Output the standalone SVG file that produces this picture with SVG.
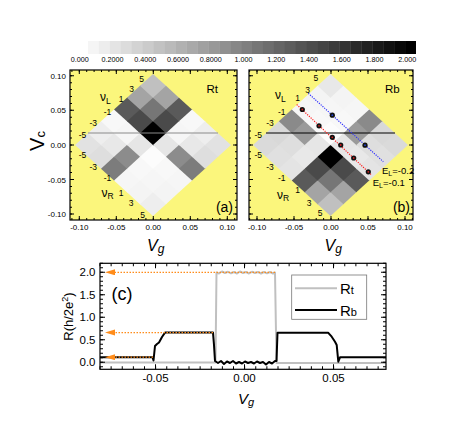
<svg xmlns="http://www.w3.org/2000/svg" width="475" height="429" viewBox="0 0 475 429">
<defs>
<style>
text{font-family:"Liberation Sans",Arial,sans-serif;fill:#000}
.cb{font-size:7.2px;text-anchor:middle}
.tk{font-size:8px}
.tkm{font-size:8px;text-anchor:middle}
.num{font-size:8.5px;text-anchor:middle}
.nu{font-size:12px}
.frame{fill:none;stroke:#000;stroke-width:1.2}
.yel{fill:#fbf67c}
.t{stroke:#000;fill:none}
.ctk{font-size:11.5px}
.ctkm{font-size:11.5px;text-anchor:middle}
.or{stroke:#ff8c1a;stroke-width:1.3;stroke-dasharray:1.5 1.5;fill:none}
.rd{fill:#111}
.el{font-size:9.5px}
</style>
<marker id="oa" markerUnits="userSpaceOnUse" markerWidth="11" markerHeight="7" refX="0" refY="3" orient="auto">
<path d="M0,0 L10,3 L0,6 z" fill="#ff8c1a"/>
</marker>
</defs>
<rect width="475" height="429" fill="#fff"/>

<g id="colorbar">
<rect x="88" y="41" width="11.3" height="13" fill="#f5f5f5"/>
<rect x="98.93" y="41" width="11.3" height="13" fill="#ededed"/>
<rect x="109.87" y="41" width="11.3" height="13" fill="#e4e4e4"/>
<rect x="120.8" y="41" width="11.3" height="13" fill="#dcdcdc"/>
<rect x="131.73" y="41" width="11.3" height="13" fill="#d3d3d3"/>
<rect x="142.67" y="41" width="11.3" height="13" fill="#cbcbcb"/>
<rect x="153.6" y="41" width="11.3" height="13" fill="#c2c2c2"/>
<rect x="164.53" y="41" width="11.3" height="13" fill="#bababa"/>
<rect x="175.47" y="41" width="11.3" height="13" fill="#b1b1b1"/>
<rect x="186.4" y="41" width="11.3" height="13" fill="#a9a9a9"/>
<rect x="197.33" y="41" width="11.3" height="13" fill="#a0a0a0"/>
<rect x="208.27" y="41" width="11.3" height="13" fill="#989898"/>
<rect x="219.2" y="41" width="11.3" height="13" fill="#909090"/>
<rect x="230.13" y="41" width="11.3" height="13" fill="#878787"/>
<rect x="241.07" y="41" width="11.3" height="13" fill="#7f7f7f"/>
<rect x="252" y="41" width="11.3" height="13" fill="#767676"/>
<rect x="262.93" y="41" width="11.3" height="13" fill="#6e6e6e"/>
<rect x="273.87" y="41" width="11.3" height="13" fill="#656565"/>
<rect x="284.8" y="41" width="11.3" height="13" fill="#5d5d5d"/>
<rect x="295.73" y="41" width="11.3" height="13" fill="#545454"/>
<rect x="306.67" y="41" width="11.3" height="13" fill="#4c4c4c"/>
<rect x="317.6" y="41" width="11.3" height="13" fill="#444444"/>
<rect x="328.53" y="41" width="11.3" height="13" fill="#3b3b3b"/>
<rect x="339.47" y="41" width="11.3" height="13" fill="#333333"/>
<rect x="350.4" y="41" width="11.3" height="13" fill="#2a2a2a"/>
<rect x="361.33" y="41" width="11.3" height="13" fill="#222222"/>
<rect x="372.27" y="41" width="11.3" height="13" fill="#191919"/>
<rect x="383.2" y="41" width="11.3" height="13" fill="#111111"/>
<rect x="394.13" y="41" width="11.3" height="13" fill="#080808"/>
<rect x="405.07" y="41" width="10.93" height="13" fill="#000000"/>
<text class="cb" x="79.7" y="62">0.000</text>
<text class="cb" x="112.5" y="62">0.2000</text>
<text class="cb" x="145.2" y="62">0.4000</text>
<text class="cb" x="178" y="62">0.6000</text>
<text class="cb" x="210.7" y="62">0.8000</text>
<text class="cb" x="243.5" y="62">1.000</text>
<text class="cb" x="276.2" y="62">1.200</text>
<text class="cb" x="309" y="62">1.400</text>
<text class="cb" x="341.7" y="62">1.600</text>
<text class="cb" x="374.5" y="62">1.800</text>
<text class="cb" x="407.2" y="62">2.000</text>
</g>

<g id="panel-a">
<rect class="yel" x="70" y="70" width="167" height="150"/>
<g transform="matrix(13,-11.8333,13,11.8333,75,145)">
<rect x="0" y="0" width="1.04" height="1.04" fill="#e2e2e2"/>
<rect x="0" y="1" width="1.04" height="1.04" fill="#dedede"/>
<rect x="0" y="2" width="1.04" height="1.04" fill="#7c7c7c"/>
<rect x="0" y="3" width="1.04" height="1.04" fill="#f6f6f6"/>
<rect x="0" y="4" width="1.04" height="1.04" fill="#f4f4f4"/>
<rect x="0" y="5" width="1.04" height="1" fill="#eeeeee"/>
<rect x="1" y="0" width="1.04" height="1.04" fill="#eeeeee"/>
<rect x="1" y="1" width="1.04" height="1.04" fill="#e8e8e8"/>
<rect x="1" y="2" width="1.04" height="1.04" fill="#8c8c8c"/>
<rect x="1" y="3" width="1.04" height="1.04" fill="#f8f8f8"/>
<rect x="1" y="4" width="1.04" height="1.04" fill="#f6f6f6"/>
<rect x="1" y="5" width="1.04" height="1" fill="#f4f4f4"/>
<rect x="2" y="0" width="1.04" height="1.04" fill="#f8f8f8"/>
<rect x="2" y="1" width="1.04" height="1.04" fill="#f6f6f6"/>
<rect x="2" y="2" width="1.04" height="1.04" fill="#e6e6e6"/>
<rect x="2" y="3" width="1.04" height="1.04" fill="#fcfcfc"/>
<rect x="2" y="4" width="1.04" height="1.04" fill="#f8f8f8"/>
<rect x="2" y="5" width="1.04" height="1" fill="#f6f6f6"/>
<rect x="3" y="0" width="1.04" height="1.04" fill="#5a5a5a"/>
<rect x="3" y="1" width="1.04" height="1.04" fill="#4a4a4a"/>
<rect x="3" y="2" width="1.04" height="1.04" fill="#000000"/>
<rect x="3" y="3" width="1.04" height="1.04" fill="#e6e6e6"/>
<rect x="3" y="4" width="1.04" height="1.04" fill="#8c8c8c"/>
<rect x="3" y="5" width="1.04" height="1" fill="#7c7c7c"/>
<rect x="4" y="0" width="1.04" height="1.04" fill="#a4a4a4"/>
<rect x="4" y="1" width="1.04" height="1.04" fill="#767676"/>
<rect x="4" y="2" width="1.04" height="1.04" fill="#4a4a4a"/>
<rect x="4" y="3" width="1.04" height="1.04" fill="#f6f6f6"/>
<rect x="4" y="4" width="1.04" height="1.04" fill="#e8e8e8"/>
<rect x="4" y="5" width="1.04" height="1" fill="#dedede"/>
<rect x="5" y="0" width="1" height="1.04" fill="#c0c0c0"/>
<rect x="5" y="1" width="1" height="1.04" fill="#a4a4a4"/>
<rect x="5" y="2" width="1" height="1.04" fill="#5a5a5a"/>
<rect x="5" y="3" width="1" height="1.04" fill="#f8f8f8"/>
<rect x="5" y="4" width="1" height="1.04" fill="#eeeeee"/>
<rect x="5" y="5" width="1" height="1" fill="#e2e2e2"/>
</g>
<line x1="88" y1="133" x2="218" y2="133" stroke="#8a8a8a" stroke-width="1"/>
<rect class="frame" x="70" y="70" width="167" height="150"/>
<line class="t" x1="71" y1="75.25" x2="71" y2="215" stroke-width="2" stroke-dasharray="1 5.915"/>
<line class="t" x1="72" y1="75.25" x2="72" y2="215" stroke-width="4" stroke-dasharray="1 33.575"/>
<line class="t" x1="236" y1="75.25" x2="236" y2="215" stroke-width="2" stroke-dasharray="1 5.915"/>
<line class="t" x1="235" y1="75.25" x2="235" y2="215" stroke-width="4" stroke-dasharray="1 33.575"/>
<line class="t" x1="71.4" y1="219" x2="236" y2="219" stroke-width="2" stroke-dasharray="1 6.4"/>
<line class="t" x1="78.8" y1="218" x2="236" y2="218" stroke-width="4" stroke-dasharray="1 36"/>
<line class="t" x1="71.4" y1="71" x2="236" y2="71" stroke-width="2" stroke-dasharray="1 6.4"/>
<line class="t" x1="78.8" y1="72" x2="236" y2="72" stroke-width="4" stroke-dasharray="1 36"/>
<text class="tk" x="66" y="78.8" text-anchor="end">0.10</text>
<text class="tk" x="66" y="113.3" text-anchor="end">0.05</text>
<text class="tk" x="66" y="147.9" text-anchor="end">0.00</text>
<text class="tk" x="66" y="182.5" text-anchor="end">-0.05</text>
<text class="tk" x="66" y="217" text-anchor="end">-0.10</text>
<text class="tkm" x="79.3" y="230">-0.10</text>
<text class="tkm" x="116.3" y="230">-0.05</text>
<text class="tkm" x="153.3" y="230">0.00</text>
<text class="tkm" x="190.3" y="230">0.05</text>
<text class="tkm" x="227.3" y="230">0.10</text>
<text class="num" x="141.7" y="82">5</text>
<text class="num" x="131.7" y="92">3</text>
<text class="num" x="121" y="102">1</text>
<text class="num" x="107.5" y="114.7">-1</text>
<text class="num" x="93.3" y="126.3">-3</text>
<text class="num" x="82.5" y="138">-5</text>
<text class="num" x="82.5" y="158">-5</text>
<text class="num" x="93.3" y="169.7">-3</text>
<text class="num" x="107.5" y="181.3">-1</text>
<text class="num" x="121" y="195.5">1</text>
<text class="num" x="131" y="206">3</text>
<text class="num" x="142.5" y="218">5</text>
<text class="nu" x="100" y="101">ν<tspan font-size="8.5" dy="3.3">L</tspan></text>
<text class="nu" x="101.5" y="196.5">ν<tspan font-size="8.5" dy="2.5">R</tspan></text>
<text x="206.5" y="93" font-size="11.5">Rt</text>
<text x="233" y="211.5" font-size="14" text-anchor="end">(a)</text>
<text x="147" y="250.5" font-size="16" font-style="italic">V<tspan font-size="12" dy="2">g</tspan></text>
<text transform="translate(43.5,141) rotate(-90)" font-size="20" text-anchor="middle">V<tspan font-size="13" dy="1">c</tspan></text>
</g>

<g id="panel-b">
<rect class="yel" x="249" y="70" width="164" height="150"/>
<g transform="matrix(12.9167,-11.8333,12.9167,11.8333,253,145)">
<rect x="0" y="0" width="1.04" height="1.04" fill="#dadada"/>
<rect x="0" y="1" width="1.04" height="1.04" fill="#e0e0e0"/>
<rect x="0" y="2" width="1.04" height="1.04" fill="#e4e4e4"/>
<rect x="0" y="3" width="1.04" height="1.04" fill="#5a5a5a"/>
<rect x="0" y="4" width="1.04" height="1.04" fill="#a4a4a4"/>
<rect x="0" y="5" width="1.04" height="1" fill="#c0c0c0"/>
<rect x="1" y="0" width="1.04" height="1.04" fill="#d8d8d8"/>
<rect x="1" y="1" width="1.04" height="1.04" fill="#dedede"/>
<rect x="1" y="2" width="1.04" height="1.04" fill="#e8e8e8"/>
<rect x="1" y="3" width="1.04" height="1.04" fill="#4a4a4a"/>
<rect x="1" y="4" width="1.04" height="1.04" fill="#767676"/>
<rect x="1" y="5" width="1.04" height="1" fill="#a4a4a4"/>
<rect x="2" y="0" width="1.04" height="1.04" fill="#8a8a8a"/>
<rect x="2" y="1" width="1.04" height="1.04" fill="#9a9a9a"/>
<rect x="2" y="2" width="1.04" height="1.04" fill="#e6e6e6"/>
<rect x="2" y="3" width="1.04" height="1.04" fill="#000000"/>
<rect x="2" y="4" width="1.04" height="1.04" fill="#4a4a4a"/>
<rect x="2" y="5" width="1.04" height="1" fill="#5a5a5a"/>
<rect x="3" y="0" width="1.04" height="1.04" fill="#f6f6f6"/>
<rect x="3" y="1" width="1.04" height="1.04" fill="#f8f8f8"/>
<rect x="3" y="2" width="1.04" height="1.04" fill="#fcfcfc"/>
<rect x="3" y="3" width="1.04" height="1.04" fill="#e6e6e6"/>
<rect x="3" y="4" width="1.04" height="1.04" fill="#e8e8e8"/>
<rect x="3" y="5" width="1.04" height="1" fill="#e4e4e4"/>
<rect x="4" y="0" width="1.04" height="1.04" fill="#f4f4f4"/>
<rect x="4" y="1" width="1.04" height="1.04" fill="#f6f6f6"/>
<rect x="4" y="2" width="1.04" height="1.04" fill="#f8f8f8"/>
<rect x="4" y="3" width="1.04" height="1.04" fill="#9a9a9a"/>
<rect x="4" y="4" width="1.04" height="1.04" fill="#dedede"/>
<rect x="4" y="5" width="1.04" height="1" fill="#e0e0e0"/>
<rect x="5" y="0" width="1" height="1.04" fill="#e8e8e8"/>
<rect x="5" y="1" width="1" height="1.04" fill="#f4f4f4"/>
<rect x="5" y="2" width="1" height="1.04" fill="#f6f6f6"/>
<rect x="5" y="3" width="1" height="1.04" fill="#8a8a8a"/>
<rect x="5" y="4" width="1" height="1.04" fill="#d8d8d8"/>
<rect x="5" y="5" width="1" height="1" fill="#dadada"/>
</g>
<line x1="266" y1="133" x2="395" y2="133" stroke="#000" stroke-width="1.2"/>
<line x1="308.3" y1="93.3" x2="383.3" y2="161.7" stroke="#3030ff" stroke-width="1.2" stroke-dasharray="1.2 1.2"/>
<line x1="296.7" y1="104.5" x2="371" y2="174.5" stroke="#ff2020" stroke-width="1.2" stroke-dasharray="1.2 1.2"/>
<g id="dots">
<circle class="rd" cx="302.3" cy="109.5" r="2.6"/><circle cx="302.3" cy="109.5" r="0.9" fill="#d02020"/>
<circle class="rd" cx="319" cy="125.8" r="2.6"/><circle cx="319" cy="125.8" r="0.9" fill="#d02020"/>
<circle class="rd" cx="332.3" cy="137.3" r="2.6"/><circle cx="332.3" cy="137.3" r="0.9" fill="#d02020"/>
<circle class="rd" cx="340.7" cy="145" r="2.6"/><circle cx="340.7" cy="145" r="0.9" fill="#d02020"/>
<circle class="rd" cx="353.7" cy="158" r="2.6"/><circle cx="353.7" cy="158" r="0.9" fill="#d02020"/>
<circle class="rd" cx="368.3" cy="171.8" r="2.6"/><circle cx="368.3" cy="171.8" r="0.9" fill="#d02020"/>
<circle class="rd" cx="332.3" cy="115.2" r="2.6"/><circle cx="332.3" cy="115.2" r="0.9" fill="#2040d0"/>
<circle class="rd" cx="365" cy="145.2" r="2.6"/><circle cx="365" cy="145.2" r="0.9" fill="#2040d0"/>
</g>
<rect class="frame" x="249" y="70" width="164" height="150"/>
<line class="t" x1="250" y1="75.25" x2="250" y2="215" stroke-width="2" stroke-dasharray="1 5.915"/>
<line class="t" x1="251" y1="75.25" x2="251" y2="215" stroke-width="4" stroke-dasharray="1 33.575"/>
<line class="t" x1="412" y1="75.25" x2="412" y2="215" stroke-width="2" stroke-dasharray="1 5.915"/>
<line class="t" x1="411" y1="75.25" x2="411" y2="215" stroke-width="4" stroke-dasharray="1 33.575"/>
<line class="t" x1="249.1" y1="219" x2="413" y2="219" stroke-width="2" stroke-dasharray="1 6.4"/>
<line class="t" x1="256.5" y1="218" x2="413" y2="218" stroke-width="4" stroke-dasharray="1 36"/>
<line class="t" x1="249.1" y1="71" x2="413" y2="71" stroke-width="2" stroke-dasharray="1 6.4"/>
<line class="t" x1="256.5" y1="72" x2="413" y2="72" stroke-width="4" stroke-dasharray="1 36"/>
<text class="tkm" x="257" y="230">-0.10</text>
<text class="tkm" x="294" y="230">-0.05</text>
<text class="tkm" x="331" y="230">0.00</text>
<text class="tkm" x="368" y="230">0.05</text>
<text class="tkm" x="405" y="230">0.10</text>
<text class="num" x="315.8" y="81.3">5</text>
<text class="num" x="307.5" y="93">3</text>
<text class="num" x="297.5" y="101.3">1</text>
<text class="num" x="281.7" y="114.7">-1</text>
<text class="num" x="270" y="126.3">-3</text>
<text class="num" x="258.3" y="138">-5</text>
<text class="num" x="258.3" y="158">-5</text>
<text class="num" x="270" y="169.7">-3</text>
<text class="num" x="281.7" y="181.3">-1</text>
<text class="num" x="297.5" y="193">1</text>
<text class="num" x="309" y="206">3</text>
<text class="num" x="320" y="216">5</text>
<text class="nu" x="275" y="98.5">ν<tspan font-size="8.5" dy="3.3">L</tspan></text>
<text class="nu" x="277" y="198.5">ν<tspan font-size="8.5" dy="2.5">R</tspan></text>
<text x="385" y="93" font-size="11.5">Rb</text>
<text class="el" x="382" y="174">E<tspan font-size="7" dy="2">L</tspan><tspan dy="-2">=-0.2</tspan></text>
<text class="el" x="372.7" y="186">E<tspan font-size="7" dy="2">L</tspan><tspan dy="-2">=-0.1</tspan></text>
<text x="410" y="211.5" font-size="14" text-anchor="end">(b)</text>
<text x="324.5" y="250.5" font-size="16" font-style="italic">V<tspan font-size="12" dy="2">g</tspan></text>
</g>

<g id="panel-c">
<rect x="100" y="263.3" width="286" height="106" fill="#fff"/>
<polyline fill="none" stroke="#c0c0c0" stroke-width="2" stroke-linejoin="round" points="100,362.6 215.5,362.6 216.5,272.5 219,273.5 222,271.5 225,273 228,271.8 231,273.3 234,272 237,273.5 240,271.5 243,273 246,272 249,273.5 252,271.8 255,273 258,272 261,273.5 264,272 267,273.3 270,272 273,273.5 275,272.5 276.5,363 386,363"/>
<polyline fill="none" stroke="#000" stroke-width="2" stroke-linejoin="round" points="100,357.2 152.5,357.2 153.5,360.5 155,346 157,344 159,342.5 162,337 165,332.6 213,332.6 214,345 215,361 218,363 221,361 224,364 227,361.5 230,363 233,361 236,363.5 239,362 242,363.5 245,361.5 248,363 251,362 254,363.5 257,361.5 260,363 263,362 266,364.5 269,362 272,363.5 275,361 276.5,361 277.5,332.8 328.3,332.8 331.7,336.7 335,341.7 336.7,345 338.3,361.7 340,357.3 386,357.3"/>
<line class="or" x1="275" y1="272.3" x2="115" y2="272.3" marker-end="url(#oa)"/>
<line class="or" x1="213" y1="332.6" x2="115" y2="332.6" marker-end="url(#oa)"/>
<line class="or" x1="153" y1="357.2" x2="115" y2="357.2" marker-end="url(#oa)"/>
<rect class="frame" x="100" y="263.3" width="286" height="106"/>
<line class="t" x1="101.5" y1="262.8" x2="101.5" y2="369.3" stroke-width="3" stroke-dasharray="1 3.5"/>
<line class="t" x1="102.5" y1="271.8" x2="102.5" y2="369.3" stroke-width="5" stroke-dasharray="1 21.5"/>
<line class="t" x1="384.5" y1="262.8" x2="384.5" y2="369.3" stroke-width="3" stroke-dasharray="1 3.5"/>
<line class="t" x1="383.5" y1="271.8" x2="383.5" y2="369.3" stroke-width="5" stroke-dasharray="1 21.5"/>
<line class="t" x1="99.5" y1="367.8" x2="386" y2="367.8" stroke-width="3" stroke-dasharray="1 10.125"/>
<line class="t" x1="155" y1="366.8" x2="386" y2="366.8" stroke-width="5" stroke-dasharray="1 88"/>
<line class="t" x1="99.5" y1="264.8" x2="386" y2="264.8" stroke-width="3" stroke-dasharray="1 10.125"/>
<line class="t" x1="155" y1="265.8" x2="386" y2="265.8" stroke-width="5" stroke-dasharray="1 88"/>
<text class="ctk" x="95.5" y="276.3" text-anchor="end">2.0</text>
<text class="ctk" x="95.5" y="298.8" text-anchor="end">1.5</text>
<text class="ctk" x="95.5" y="321.3" text-anchor="end">1.0</text>
<text class="ctk" x="95.5" y="343.8" text-anchor="end">0.5</text>
<text class="ctk" x="95.5" y="366.3" text-anchor="end">0.0</text>
<text class="ctkm" x="155.5" y="381.5">-0.05</text>
<text class="ctkm" x="244.5" y="381.5">0.00</text>
<text class="ctkm" x="333.5" y="381.5">0.05</text>
<text x="238" y="403.5" font-size="15" font-style="italic">V<tspan font-size="11" dy="2">g</tspan></text>
<text transform="translate(72.5,316.5) rotate(-90)" font-size="13" text-anchor="middle">R(h/2e<tspan font-size="9" dy="-5">2</tspan><tspan dy="5">)</tspan></text>
<text x="111.5" y="299.5" font-size="18">(c)</text>
<g id="legend">
<rect x="291.7" y="275" width="75" height="44.3" fill="#fff" stroke="#777" stroke-width="0.8"/>
<line x1="295" y1="288.3" x2="337" y2="288.3" stroke="#c0c0c0" stroke-width="2"/>
<line x1="295" y1="310" x2="337" y2="310" stroke="#000" stroke-width="2"/>
<text x="340" y="293.5" font-size="15">R<tspan font-size="11">t</tspan></text>
<text x="340" y="315.5" font-size="15">R<tspan font-size="11">b</tspan></text>
</g>
</g>
</svg>
